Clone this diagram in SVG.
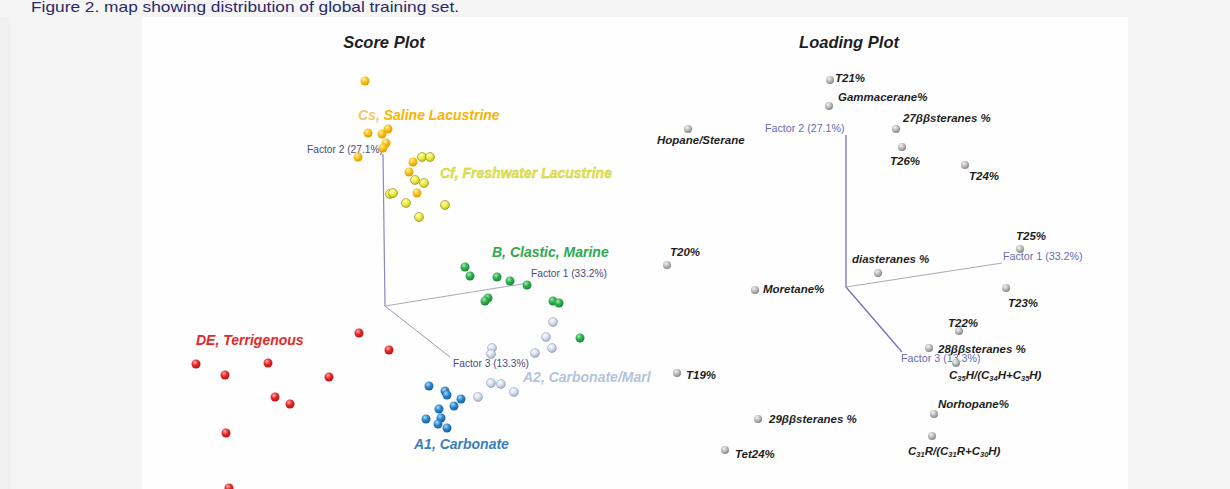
<svg xmlns="http://www.w3.org/2000/svg" width="1230" height="489" viewBox="0 0 1230 489">
<defs>
<radialGradient id="gY" cx="0.38" cy="0.32" r="0.75"><stop offset="0" stop-color="#fff3b0"/><stop offset="0.45" stop-color="#f7c21a"/><stop offset="1" stop-color="#d89400"/></radialGradient>
<radialGradient id="gF" cx="0.38" cy="0.32" r="0.75"><stop offset="0" stop-color="#ffffc0"/><stop offset="0.5" stop-color="#ecec40"/><stop offset="1" stop-color="#b8b820"/></radialGradient>
<radialGradient id="gG" cx="0.38" cy="0.32" r="0.75"><stop offset="0" stop-color="#a8e8b0"/><stop offset="0.45" stop-color="#30b050"/><stop offset="1" stop-color="#188030"/></radialGradient>
<radialGradient id="gR" cx="0.38" cy="0.32" r="0.75"><stop offset="0" stop-color="#ffb0b0"/><stop offset="0.45" stop-color="#ea2626"/><stop offset="1" stop-color="#b01010"/></radialGradient>
<radialGradient id="gB" cx="0.38" cy="0.32" r="0.75"><stop offset="0" stop-color="#b0d8ff"/><stop offset="0.45" stop-color="#2a86cc"/><stop offset="1" stop-color="#125a9a"/></radialGradient>
<radialGradient id="gL" cx="0.38" cy="0.32" r="0.75"><stop offset="0" stop-color="#ffffff"/><stop offset="0.5" stop-color="#d4dcee"/><stop offset="1" stop-color="#9aa6c4"/></radialGradient>
<radialGradient id="gK" cx="0.38" cy="0.32" r="0.75"><stop offset="0" stop-color="#f4f4f4"/><stop offset="0.5" stop-color="#b8b8b8"/><stop offset="1" stop-color="#7c7c7c"/></radialGradient>
</defs>
<style>
.ttl{font-family:"Liberation Sans",Arial,sans-serif;font-weight:bold;font-style:italic;font-size:16.5px;fill:#1e1e1e;text-anchor:middle}
.grp{font-family:"Liberation Sans",Arial,sans-serif;font-weight:bold;font-style:italic;font-size:14px}
.lab{font-family:"Liberation Sans",Arial,sans-serif;font-weight:bold;font-style:italic;font-size:11.5px;fill:#1e1e1e}
.fac{font-family:"Liberation Sans",Arial,sans-serif;font-size:10.2px;fill:#4a4a7e}
.facL{font-family:"Liberation Sans",Arial,sans-serif;font-size:10.7px;fill:#6a6ab4}
.cap{font-family:"Liberation Sans",Arial,sans-serif;font-size:14.5px;fill:#2a2a6a}
.y circle{fill:url(#gY)}
.f circle{fill:url(#gF);stroke:#8a8a20;stroke-width:0.6}
.g circle{fill:url(#gG)}
.r circle{fill:url(#gR)}
.b circle{fill:url(#gB)}
.l circle{fill:url(#gL);stroke:#8a94b0;stroke-width:0.5}
.k circle{fill:url(#gK)}
.sub{font-size:7.5px}
</style>
<rect x="0" y="0" width="1230" height="489" fill="#f5f5f5"/>
<rect x="0" y="17" width="11" height="472" fill="#f0f0f1"/>
<rect x="142" y="17" width="986" height="472" fill="#fefefe"/>
<text id="caption" class="cap" x="31" y="12" textLength="428" lengthAdjust="spacingAndGlyphs">Figure 2. map showing distribution of global training set.</text>

<g id="score-plot">
<text class="ttl" x="384" y="48">Score Plot</text>
<g id="score-axes">
<line x1="383" y1="154" x2="385" y2="306" stroke="#8888c0" stroke-width="1.2"/>
<line x1="385" y1="306" x2="528" y2="283" stroke="#a8a8b8" stroke-width="1"/>
<line x1="385" y1="306" x2="450" y2="357" stroke="#9a9ab8" stroke-width="1"/>
<text class="fac" x="307" y="153">Factor 2 (27.1%)</text>
<text class="fac" x="531" y="277">Factor 1 (33.2%)</text>
<text class="fac" x="453" y="367">Factor 3 (13.3%)</text>
</g>
<g id="cluster-Cs" class="y">
<circle cx="365" cy="81" r="4.5"/><circle cx="368" cy="133" r="4.5"/><circle cx="382" cy="134" r="4.5"/><circle cx="388" cy="129" r="4.5"/><circle cx="386" cy="143" r="4.5"/><circle cx="383" cy="148" r="4.5"/><circle cx="358" cy="157" r="4.5"/><circle cx="413" cy="162" r="4.5"/><circle cx="409" cy="172" r="4.5"/><circle cx="417" cy="193" r="4.5"/>
</g>
<g id="cluster-Cf" class="f">
<circle cx="422" cy="157" r="4.5"/><circle cx="430" cy="157" r="4.5"/><circle cx="415" cy="180" r="4.5"/><circle cx="424" cy="183" r="4.5"/><circle cx="390" cy="194" r="4.5"/><circle cx="393" cy="193" r="4.5"/><circle cx="406" cy="203" r="4.5"/><circle cx="445" cy="205" r="4.5"/><circle cx="419" cy="217" r="4.5"/>
</g>
<g id="cluster-B" class="g">
<circle cx="465" cy="267" r="4.5"/><circle cx="470" cy="276" r="4.5"/><circle cx="497" cy="277" r="4.5"/><circle cx="510" cy="281" r="4.5"/><circle cx="527" cy="285" r="4.5"/><circle cx="488" cy="298" r="4.5"/><circle cx="485" cy="301" r="4.5"/><circle cx="553" cy="301" r="4.5"/><circle cx="559" cy="303" r="4.5"/><circle cx="580" cy="338" r="4.5"/>
</g>
<g id="cluster-DE" class="r">
<circle cx="359" cy="333" r="4.5"/><circle cx="389" cy="350" r="4.5"/><circle cx="196" cy="364" r="4.5"/><circle cx="268" cy="363" r="4.5"/><circle cx="225" cy="375" r="4.5"/><circle cx="329" cy="377" r="4.5"/><circle cx="275" cy="397" r="4.5"/><circle cx="290" cy="404" r="4.5"/><circle cx="226" cy="433" r="4.5"/><circle cx="229" cy="488" r="4.5"/>
</g>
<g id="cluster-A2" class="l">
<circle cx="553" cy="322" r="4.5"/><circle cx="546" cy="337" r="4.5"/><circle cx="552" cy="348" r="4.5"/><circle cx="535" cy="353" r="4.5"/><circle cx="492" cy="348" r="4.5"/><circle cx="491" cy="354" r="4.5"/><circle cx="491" cy="383" r="4.5"/><circle cx="501" cy="384" r="4.5"/><circle cx="514" cy="392" r="4.5"/><circle cx="478" cy="397" r="4.5"/>
</g>
<g id="cluster-A1" class="b">
<circle cx="429" cy="386" r="4.5"/><circle cx="445" cy="391" r="4.5"/><circle cx="447" cy="395" r="4.5"/><circle cx="461" cy="399" r="4.5"/><circle cx="454" cy="406" r="4.5"/><circle cx="439" cy="409" r="4.5"/><circle cx="441" cy="418" r="4.5"/><circle cx="426" cy="419" r="4.5"/><circle cx="438" cy="424" r="4.5"/><circle cx="447" cy="428" r="4.5"/>
</g>
<g id="group-labels">
<text class="grp" x="358" y="120"><tspan fill="#efc868">Cs, </tspan><tspan fill="#f7b400">Saline Lacustrine</tspan></text>
<text class="grp" x="440" y="178" fill="#e4e44a" stroke="#c4c43a" stroke-width="0.3">Cf, Freshwater Lacustrine</text>
<text class="grp" x="492" y="257" fill="#2ea84e">B, Clastic,  Marine</text>
<text class="grp" x="196" y="345" fill="#e02a2a">DE, Terrigenous</text>
<text class="grp" x="523" y="382" fill="#b4c4dc">A2, Carbonate/Marl</text>
<text class="grp" x="414" y="449" fill="#3a7ec0">A1, Carbonate</text>
</g>
</g>

<g id="loading-plot">
<text class="ttl" x="849" y="48">Loading Plot</text>
<g id="loading-axes">
<line x1="846" y1="135" x2="846" y2="287" stroke="#7070c0" stroke-width="1.3"/>
<line x1="846" y1="287" x2="1002" y2="263" stroke="#a8a8b8" stroke-width="1"/>
<line x1="846" y1="287" x2="902" y2="352" stroke="#7070c0" stroke-width="1.3"/>
<text class="facL" x="765" y="132">Factor 2 (27.1%)</text>
<text class="facL" x="1003" y="260">Factor 1 (33.2%)</text>
<text class="facL" x="901" y="362">Factor 3 (13.3%)</text>
</g>
<g class="k">
<g id="v-T21"><circle cx="830" cy="80" r="4"/><text class="lab" x="835" y="82">T21%</text></g>
<g id="v-Gammacerane"><circle cx="829" cy="106" r="4"/><text class="lab" x="838" y="101">Gammacerane%</text></g>
<g id="v-HopaneSterane"><circle cx="688" cy="129" r="4"/><text class="lab" x="657" y="144">Hopane/Sterane</text></g>
<g id="v-27bb"><circle cx="896" cy="129" r="4"/><text class="lab" x="903" y="122">27ββsteranes %</text></g>
<g id="v-T26"><circle cx="902" cy="147" r="4"/><text class="lab" x="890" y="165">T26%</text></g>
<g id="v-T24"><circle cx="965" cy="165" r="4"/><text class="lab" x="969" y="180">T24%</text></g>
<g id="v-T25"><circle cx="1020" cy="249" r="4"/><text class="lab" x="1016" y="240">T25%</text></g>
<g id="v-T20"><circle cx="667" cy="265" r="4"/><text class="lab" x="670" y="256">T20%</text></g>
<g id="v-diasteranes"><circle cx="878" cy="273" r="4"/><text class="lab" x="852" y="263">diasteranes %</text></g>
<g id="v-Moretane"><circle cx="755" cy="290" r="4"/><text class="lab" x="763" y="293">Moretane%</text></g>
<g id="v-T23"><circle cx="1006" cy="288" r="4"/><text class="lab" x="1008" y="307">T23%</text></g>
<g id="v-T22"><circle cx="959" cy="331" r="4"/><text class="lab" x="948" y="327">T22%</text></g>
<g id="v-28bb"><circle cx="929" cy="348" r="4"/><text class="lab" x="938" y="353">28ββsteranes %</text></g>
<g id="v-C35H"><circle cx="956" cy="363" r="4"/><text class="lab" x="949" y="379">C<tspan class="sub" dy="2">35</tspan><tspan dy="-2">H/(C</tspan><tspan class="sub" dy="2">34</tspan><tspan dy="-2">H+C</tspan><tspan class="sub" dy="2">35</tspan><tspan dy="-2">H)</tspan></text></g>
<g id="v-T19"><circle cx="677" cy="373" r="4"/><text class="lab" x="686" y="379">T19%</text></g>
<g id="v-Norhopane"><circle cx="934" cy="414" r="4"/><text class="lab" x="938" y="408">Norhopane%</text></g>
<g id="v-29bb"><circle cx="758" cy="419" r="4"/><text class="lab" x="769" y="423">29ββsteranes %</text></g>
<g id="v-C31R"><circle cx="932" cy="436" r="4"/><text class="lab" x="908" y="455">C<tspan class="sub" dy="2">31</tspan><tspan dy="-2">R/(C</tspan><tspan class="sub" dy="2">31</tspan><tspan dy="-2">R+C</tspan><tspan class="sub" dy="2">30</tspan><tspan dy="-2">H)</tspan></text></g>
<g id="v-Tet24"><circle cx="725" cy="450" r="4"/><text class="lab" x="735" y="458">Tet24%</text></g>
</g>
</g>
</svg>
